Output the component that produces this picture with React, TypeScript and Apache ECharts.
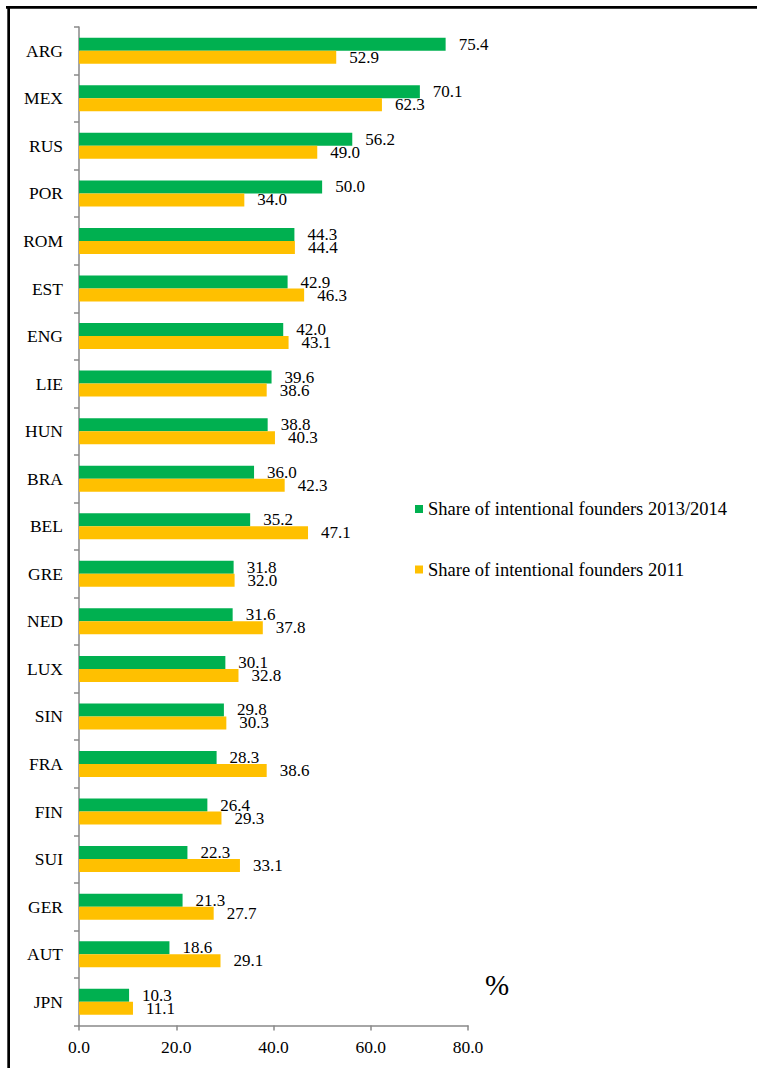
import React, { useEffect, useRef } from "react";
import * as echarts from "echarts";

const categories = ["ARG","MEX","RUS","POR","ROM","EST","ENG","LIE","HUN","BRA","BEL","GRE","NED","LUX","SIN","FRA","FIN","SUI","GER","AUT","JPN"];
const share2013_2014 = [75.4,70.1,56.2,50.0,44.3,42.9,42.0,39.6,38.8,36.0,35.2,31.8,31.6,30.1,29.8,28.3,26.4,22.3,21.3,18.6,10.3];
const share2011 = [52.9,62.3,49.0,34.0,44.4,46.3,43.1,38.6,40.3,42.3,47.1,32.0,37.8,32.8,30.3,38.6,29.3,33.1,27.7,29.1,11.1];
const seriesNames = ["Share of intentional founders 2013/2014", "Share of intentional founders 2011"];
const xTicks = { min: 0, max: 80, interval: 20 };

const FONT = "'Liberation Serif', 'Times New Roman', serif";

export default function App() {
  const ref = useRef<HTMLDivElement>(null);
  useEffect(() => {
    if (!ref.current) return;
    const chart = echarts.init(ref.current, null, { renderer: "svg" });
    const labelStyle = {
      show: true,
      position: "right" as const,
      distance: 13,
      fontFamily: FONT,
      fontSize: 17,
      color: "#000",
      formatter: (p: any) => Number(p.value).toFixed(1),
    };
    const legendText = { fontFamily: FONT, fontSize: 18.5, color: "#000", lineHeight: 18 };
    chart.setOption({
      animation: false,
      backgroundColor: "#fff",
      textStyle: { fontFamily: FONT },
      grid: { left: 79, top: 27, right: 289, bottom: 42.5, containLabel: false },
      legend: [
        {
          data: [seriesNames[0]],
          orient: "vertical",
          left: 410,
          top: 494.5,
          itemWidth: 8,
          itemHeight: 8,
          icon: "rect",
          textStyle: legendText,
        },
        {
          data: [seriesNames[1]],
          orient: "vertical",
          left: 410,
          top: 555,
          itemWidth: 8,
          itemHeight: 8,
          icon: "rect",
          textStyle: legendText,
        },
      ],
      xAxis: {
        type: "value",
        min: xTicks.min,
        max: xTicks.max,
        interval: xTicks.interval,
        splitLine: { show: false },
        axisLine: { show: true, lineStyle: { color: "#898989", width: 1.5 } },
        axisTick: { show: true, length: 5, lineStyle: { color: "#898989", width: 1.5 } },
        axisLabel: {
          fontFamily: FONT,
          fontSize: 17.5,
          color: "#000",
          margin: 12,
          formatter: (v: number) => v.toFixed(1),
        },
      },
      yAxis: {
        type: "category",
        data: categories,
        inverse: true,
        axisLine: { show: true, lineStyle: { color: "#898989", width: 1.5 } },
        axisTick: { show: true, length: 5, lineStyle: { color: "#898989", width: 1.5 } },
        axisLabel: { fontFamily: FONT, fontSize: 17.5, color: "#000", margin: 16 },
      },
      series: [
        {
          name: seriesNames[0],
          type: "bar",
          data: share2013_2014,
          barWidth: 13,
          barGap: "0%",
          itemStyle: { color: "#00B050" },
          label: labelStyle,
        },
        {
          name: seriesNames[1],
          type: "bar",
          data: share2011,
          barWidth: 13,
          barGap: "0%",
          itemStyle: { color: "#FFC000" },
          label: labelStyle,
        },
      ],
      graphic: [
        { type: "rect", shape: { x: 6, y: 6, width: 751, height: 2.7 }, style: { fill: "#000" } },
        { type: "rect", shape: { x: 7.3, y: 6, width: 2.7, height: 1062 }, style: { fill: "#000" } },
        {
          type: "text",
          x: 497,
          y: 985,
          style: { text: "%", fontFamily: FONT, fontSize: 29, fill: "#000", align: "center", verticalAlign: "middle" },
        },
      ],
    });
    return () => chart.dispose();
  }, []);
  return (
    <div
      ref={ref}
      style={{ position: "absolute", left: 0, top: 0, width: 757, height: 1068 }}
    />
  );
}
